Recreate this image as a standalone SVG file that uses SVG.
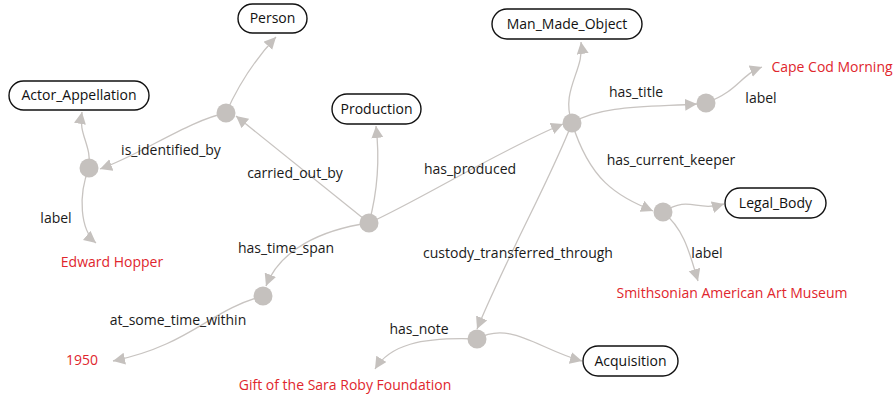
<svg xmlns="http://www.w3.org/2000/svg" width="894" height="396" viewBox="0 0 894 396">
<style>
.node rect{fill:#fff;stroke:#111;stroke-width:1.4}
text{font-family:"Open Sans","Noto Sans","DejaVu Sans",sans-serif;font-size:14px;text-anchor:middle}
.node text{fill:#111}
.lbl{fill:#1a1a1a}
.lit{fill:#e0262d}
.edge{fill:none;stroke:#c8c4c1;stroke-width:1.3;marker-end:url(#arr)}
.dot{fill:#c5c1be}
</style>
<defs>
<marker id="arr" markerUnits="userSpaceOnUse" markerWidth="13" markerHeight="13" refX="12" refY="6" orient="auto" viewBox="0 0 13 13">
<path d="M0,0 L12,6 L0,12 z" fill="#c5c1be"/>
</marker>
</defs>
<rect width="894" height="396" fill="#fff"/>
<g id="connectors">
<path class="edge" d="M226,113 Q245,70 276,37"/>
<path class="edge" d="M226,113 C190,120 140,155 100,169"/>
<path class="edge" d="M89,168 C92,145 78,135 82,112"/>
<path class="edge" d="M89,168 C78,195 80,230 96,243"/>
<path class="edge" d="M369,223 L236,116"/>
<path class="edge" d="M369,223 C378,190 380,160 376,126"/>
<path class="edge" d="M369,223 C420,200 500,150 563,124"/>
<path class="edge" d="M369,223 C320,230 280,250 266,286"/>
<path class="edge" d="M263,296 C210,310 190,345 113,361"/>
<path class="edge" d="M572,123 C560,90 585,70 581,42"/>
<path class="edge" d="M572,123 C600,105 650,107 697,104"/>
<path class="edge" d="M706,103 C740,90 740,75 762,67"/>
<path class="edge" d="M572,123 C590,180 615,195 653,211"/>
<path class="edge" d="M572,123 C550,180 510,250 477,329"/>
<path class="edge" d="M663,212 C690,195 695,212 724,204"/>
<path class="edge" d="M663,212 C685,230 690,255 698,281"/>
<path class="edge" d="M477,339 C420,337 390,345 375,369"/>
<path class="edge" d="M477,339 C510,320 540,350 582,361"/>
</g>
<g id="dots">
<circle id="n-c1" class="dot" cx="226" cy="113" r="9.5"/>
<circle id="n-c2" class="dot" cx="89" cy="168" r="9.5"/>
<circle id="n-prod" class="dot" cx="369" cy="223" r="9.5"/>
<circle id="n-mmo" class="dot" cx="572" cy="123" r="9.5"/>
<circle id="n-title" class="dot" cx="706" cy="103" r="9.5"/>
<circle id="n-keeper" class="dot" cx="663" cy="212" r="9.5"/>
<circle id="n-span" class="dot" cx="263" cy="296" r="9.5"/>
<circle id="n-custody" class="dot" cx="477" cy="339" r="9.5"/>
</g>
<g id="person" class="node"><rect x="238" y="4" width="69" height="29" rx="14.5"/><text x="272.5" y="23">Person</text></g>
<g id="actor_appellation" class="node"><rect x="9" y="81" width="140" height="29" rx="14.5"/><text x="79" y="100">Actor_Appellation</text></g>
<g id="production" class="node"><rect x="332" y="94" width="89" height="30" rx="15"/><text x="376.5" y="114">Production</text></g>
<g id="man_made_object" class="node"><rect x="492" y="9" width="150" height="30" rx="15"/><text x="567" y="29">Man_Made_Object</text></g>
<g id="legal_body" class="node"><rect x="725" y="188" width="101" height="30" rx="15"/><text x="775.5" y="208">Legal_Body</text></g>
<g id="acquisition" class="node"><rect x="583" y="346" width="95" height="30" rx="15"/><text x="630.5" y="366">Acquisition</text></g>
<g id="edge-labels">
<text class="lbl" x="171" y="155">is_identified_by</text>
<text class="lbl" x="295" y="178">carried_out_by</text>
<text class="lbl" x="470" y="174">has_produced</text>
<text class="lbl" x="636" y="97">has_title</text>
<text class="lbl" x="761" y="103">label</text>
<text class="lbl" x="671" y="165">has_current_keeper</text>
<text class="lbl" x="56" y="223">label</text>
<text class="lbl" x="286" y="253">has_time_span</text>
<text class="lbl" x="178" y="325">at_some_time_within</text>
<text class="lbl" x="419" y="334">has_note</text>
<text class="lbl" x="518" y="258">custody_transferred_through</text>
<text class="lbl" x="707" y="258">label</text>
</g>
<g id="literals">
<text class="lit" x="832" y="72">Cape Cod Morning</text>
<text class="lit" x="112" y="267">Edward Hopper</text>
<text class="lit" x="82" y="365">1950</text>
<text class="lit" x="345" y="390">Gift of the Sara Roby Foundation</text>
<text class="lit" x="732" y="298">Smithsonian American Art Museum</text>
</g>
</svg>
